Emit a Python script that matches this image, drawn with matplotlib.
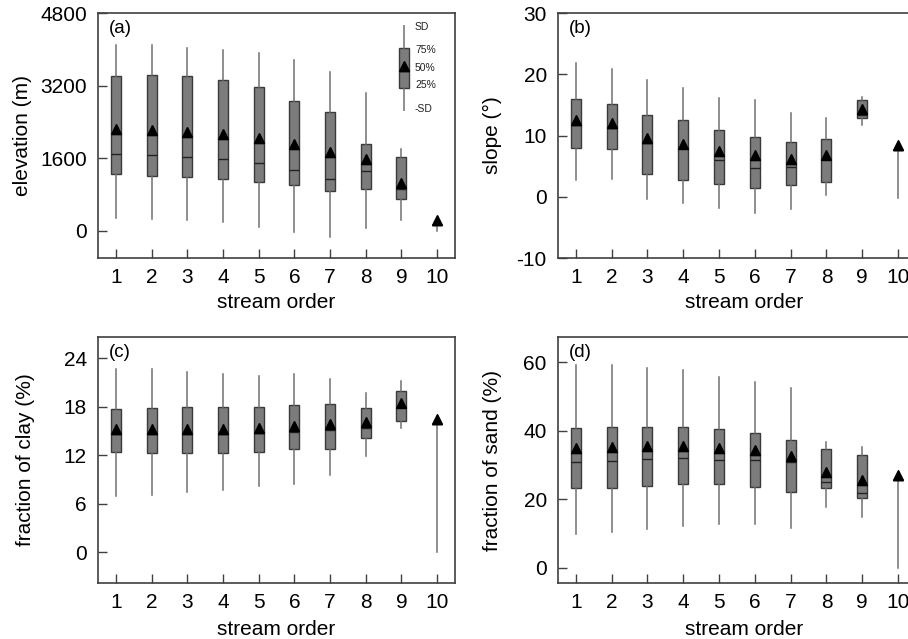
import matplotlib.pyplot as plt
import matplotlib.transforms as mtransforms

plt.rcParams['font.family'] = ['Liberation Sans', 'DejaVu Sans']
plt.rcParams['axes.unicode_minus'] = False

orders = [1, 2, 3, 4, 5, 6, 7, 8, 9, 10]

# per panel: lower whisker, Q1, median, mean, Q3, upper whisker
elev_lo = [292, 263, 241, 190, 88, -29, -132, 66, 241, -15]
elev_q1 = [1242, 1213, 1191, 1147, 1067, 1001, 869, 928, 709, 124]
elev_med = [1695, 1680, 1637, 1578, 1490, 1344, 1147, 1308, 930, 124]
elev_mean = [2126, 2111, 2075, 2024, 1929, 1805, 1622, 1483, 950, 124]
elev_q3 = [3419, 3441, 3405, 3324, 3163, 2871, 2608, 1907, 1629, 124]
elev_hi = [4091, 4091, 4040, 3989, 3909, 3763, 3500, 3032, 1812, 124]

slope_lo = [2.7, 2.9, -0.3, -1.0, -1.8, -2.7, -2.0, 0.3, 11.8, -0.2]
slope_q1 = [8.0, 7.8, 3.8, 2.7, 2.1, 1.5, 2.0, 2.4, 12.9, 7.6]
slope_med = [11.8, 11.3, 8.8, 7.9, 6.0, 4.7, 4.9, 6.1, 13.4, 7.6]
slope_mean = [11.8, 11.3, 8.8, 7.9, 6.7, 6.0, 5.4, 6.1, 13.6, 7.6]
slope_q3 = [15.9, 15.2, 13.4, 12.6, 10.9, 9.8, 9.0, 9.4, 15.8, 7.6]
slope_hi = [21.8, 20.8, 19.0, 17.8, 16.2, 15.8, 13.6, 12.9, 16.3, 7.6]

clay_lo = [6.95, 7.1, 7.4, 7.7, 8.2, 8.4, 9.6, 11.9, 15.3, 0.0]
clay_q1 = [12.4, 12.3, 12.25, 12.3, 12.45, 12.7, 12.8, 14.1, 16.2, 15.9]
clay_med = [14.6, 14.6, 14.6, 14.6, 14.7, 14.9, 15.1, 15.4, 17.9, 15.9]
clay_mean = [14.6, 14.6, 14.6, 14.6, 14.7, 15.0, 15.2, 15.5, 17.9, 15.9]
clay_q3 = [17.75, 17.8, 17.9, 17.9, 18.0, 18.2, 18.3, 17.8, 19.9, 15.9]
clay_hi = [22.7, 22.6, 22.3, 22.05, 21.8, 22.05, 21.4, 19.65, 21.2, 15.9]

sand_lo = [10.0, 10.5, 11.3, 12.1, 12.9, 12.9, 11.6, 17.9, 14.7, 0.0]
sand_q1 = [23.2, 23.3, 24.0, 24.4, 24.5, 23.7, 22.1, 23.4, 20.3, 25.7]
sand_med = [30.8, 31.1, 31.7, 32.0, 31.5, 31.5, 31.0, 24.9, 21.8, 25.7]
sand_mean = [33.6, 33.9, 34.1, 34.1, 33.4, 32.9, 31.2, 26.4, 24.2, 25.7]
sand_q3 = [40.7, 41.1, 41.1, 41.0, 40.5, 39.3, 37.4, 34.7, 32.9, 25.7]
sand_hi = [59.05, 59.05, 58.3, 57.6, 55.7, 54.2, 52.4, 36.8, 35.3, 25.7]

key_labels = ['SD', '75%', '50%', '25%', '-SD']
key_levels = [98, 71, 50, 30, 2]

panels = [
    ('(a)', 'elevation (m)', (elev_lo, elev_q1, elev_med, elev_mean, elev_q3, elev_hi),
     (-600, 4800), [0, 1600, 3200, 4800]),
    ('(b)', 'slope (°)', (slope_lo, slope_q1, slope_med, slope_mean, slope_q3, slope_hi),
     (-10, 30), [-10, 0, 10, 20, 30]),
    ('(c)', 'fraction of clay (%)', (clay_lo, clay_q1, clay_med, clay_mean, clay_q3, clay_hi),
     (-3.8, 26.6), [0, 6, 12, 18, 24]),
    ('(d)', 'fraction of sand (%)', (sand_lo, sand_q1, sand_med, sand_mean, sand_q3, sand_hi),
     (-4.4, 67.3), [0, 20, 40, 60]),
]

positions = [[0.1079, 0.5962, 0.3932, 0.3834], [0.6145, 0.5962, 0.3943, 0.3834],
             [0.1079, 0.0876, 0.3932, 0.385], [0.6145, 0.0876, 0.3943, 0.385]]
ylabel_x = [-0.185, -0.156, -0.176, -0.156]
xlabel_y = [-0.143, -0.143, -0.15, -0.15]
xlabel_x = [0.5, 0.52, 0.5, 0.52]

box_face = '#7c7c7c'
box_edge = '#3a3a3a'
whisk_col = '#707070'
spine_col = '#404040'

fig = plt.figure(figsize=(9.08, 6.39), dpi=100)


def draw_boxes(ax, stats, pos, width, ms):
    ax.bxp(stats, positions=pos, widths=width, showcaps=False, showfliers=False,
           showmeans=True, meanline=True, patch_artist=True,
           boxprops=dict(facecolor=box_face, edgecolor=box_edge, linewidth=1.0),
           whiskerprops=dict(color=whisk_col, linewidth=1.1),
           medianprops=dict(color='#222222', linewidth=1.0),
           meanprops=dict(color='#222222', linewidth=1.0, linestyle='-'))
    # triangle sits on the mean line
    up = mtransforms.offset_copy(ax.transData, fig=fig, x=0, y=ms / 2, units='points')
    ax.plot(pos, [s['mean'] for s in stats], linestyle='none', marker='^', ms=ms,
            color='black', transform=up, zorder=5, clip_on=False)


for i, (tag, ylab, cols, ylim, yticks) in enumerate(panels):
    ax = fig.add_axes(positions[i])
    lo, q1, med, mean, q3, hi = cols
    stats = [dict(whislo=lo[k], q1=q1[k], med=med[k], mean=mean[k], q3=q3[k],
                  whishi=hi[k], fliers=[]) for k in range(len(orders))]
    draw_boxes(ax, stats, orders, 0.28, 7)
    ax.set_xlim(0.5, 10.5)
    ax.set_ylim(*ylim)
    ax.set_xticks(orders)
    ax.set_xticklabels([str(o) for o in orders])
    ax.set_yticks(yticks)
    ax.tick_params(direction='in', length=6.5, width=1, color=spine_col,
                   labelsize=15, pad=7)
    ax.tick_params(axis='y', pad=8)
    for sp in ax.spines.values():
        sp.set_color(spine_col)
        sp.set_linewidth(1.2)
    ax.set_ylabel(ylab, fontsize=15)
    ax.yaxis.set_label_coords(ylabel_x[i], 0.5)
    ax.set_xlabel('stream order', fontsize=15, va='top')
    ax.xaxis.set_label_coords(xlabel_x[i], xlabel_y[i])
    ax.text(0.03, 0.935, tag, transform=ax.transAxes, fontsize=13.5,
            ha='left', va='center')

# key for the box symbols in panel (a)
kax = fig.add_axes([394 / 908, 1 - 111 / 639, 20 / 908, 86 / 639])
kax.axis('off')
key_stats = [dict(whislo=0, q1=27, med=47, mean=47, q3=73, whishi=100, fliers=[])]
draw_boxes(kax, key_stats, [0], 0.5, 7)
kax.set_xlim(-0.5, 0.5)
kax.set_ylim(0, 100)
for lab, lev in zip(key_labels, key_levels):
    kax.text(0.55, lev, lab, fontsize=7.5, ha='left', va='center', color='#222222',
             clip_on=False)

fig.savefig('out.png', dpi=100)
